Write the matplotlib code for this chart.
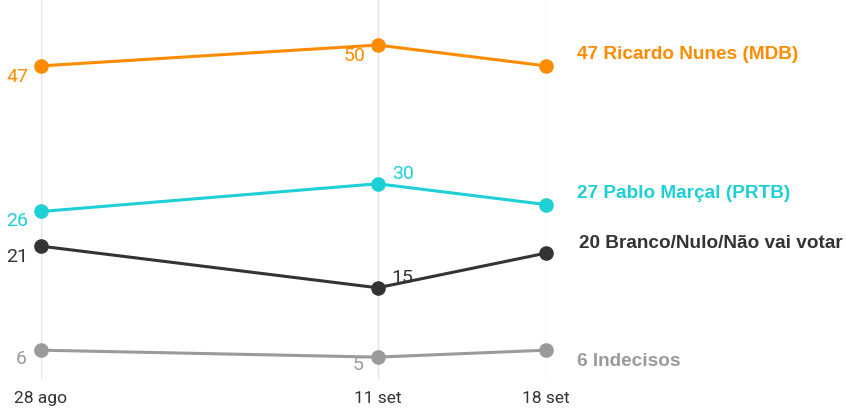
import datetime as dt
import matplotlib
matplotlib.use('Agg')
import matplotlib.pyplot as plt
import matplotlib.dates as mdates

dates = [dt.date(2024, 8, 28), dt.date(2024, 9, 11), dt.date(2024, 9, 18)]
date_labels = ['28 ago', '11 set', '18 set']

nunes = [47, 50, 47]
marcal = [26, 30, 27]
branco = [21, 15, 20]
indecisos = [6, 5, 6]

names = ['Ricardo Nunes (MDB)', 'Pablo Marçal (PRTB)', 'Branco/Nulo/Não vai votar', 'Indecisos']
colors = ['#FF8C00', '#1ECFD6', '#333333', '#9A9A9A']
series = [nunes, marcal, branco, indecisos]

# label offsets (points) for the value labels at each date
offsets = [
    [(-17, -8), (-17, -8), None],
    [(-17, -7), (18, 7), None],
    [(-17, -8), (18, 7), None],
    [(-14, -6), (-14, -6), None],
]
end_offsets = [(22, 8), (22, 8), (24, 7), (22, -8)]

fig = plt.figure(figsize=(8.46, 4.08), dpi=100)
ax = fig.add_axes([41 / 846, 28 / 408, 505 / 846, 380 / 408])

xs = mdates.date2num(dates)
for vals, c, name, offs, eoff in zip(series, colors, names, offsets, end_offsets):
    ax.plot(xs, vals, color=c, lw=2.2, marker='o', ms=9.5, zorder=3, clip_on=False)
    for x, v, o in zip(xs, vals, offs):
        if o is None:
            continue
        ax.annotate(str(v), (x, v), xytext=o, textcoords='offset points',
                    ha='center', va='center', color=c, fontsize=14,
                    family='Roboto')
    ax.annotate(f'{vals[-1]} {name}', (xs[-1], vals[-1]), xytext=eoff,
                textcoords='offset points', ha='left', va='center', color=c,
                fontsize=13.7, family='Liberation Sans', fontweight='bold',
                annotation_clip=False)

ax.set_xlim(xs[0], xs[-1])
ax.set_ylim(1.7, 56.5)
ax.set_xticks(xs)
ax.set_xticklabels(date_labels, family='Roboto', fontsize=12.5, color='#333333')
ax.set_yticks([])
ax.tick_params(axis='x', length=0, pad=8)
ax.grid(axis='x', color='#E5E5E5', lw=1)
for s in ax.spines.values():
    s.set_visible(False)

fig.savefig('out.png', dpi=100)
